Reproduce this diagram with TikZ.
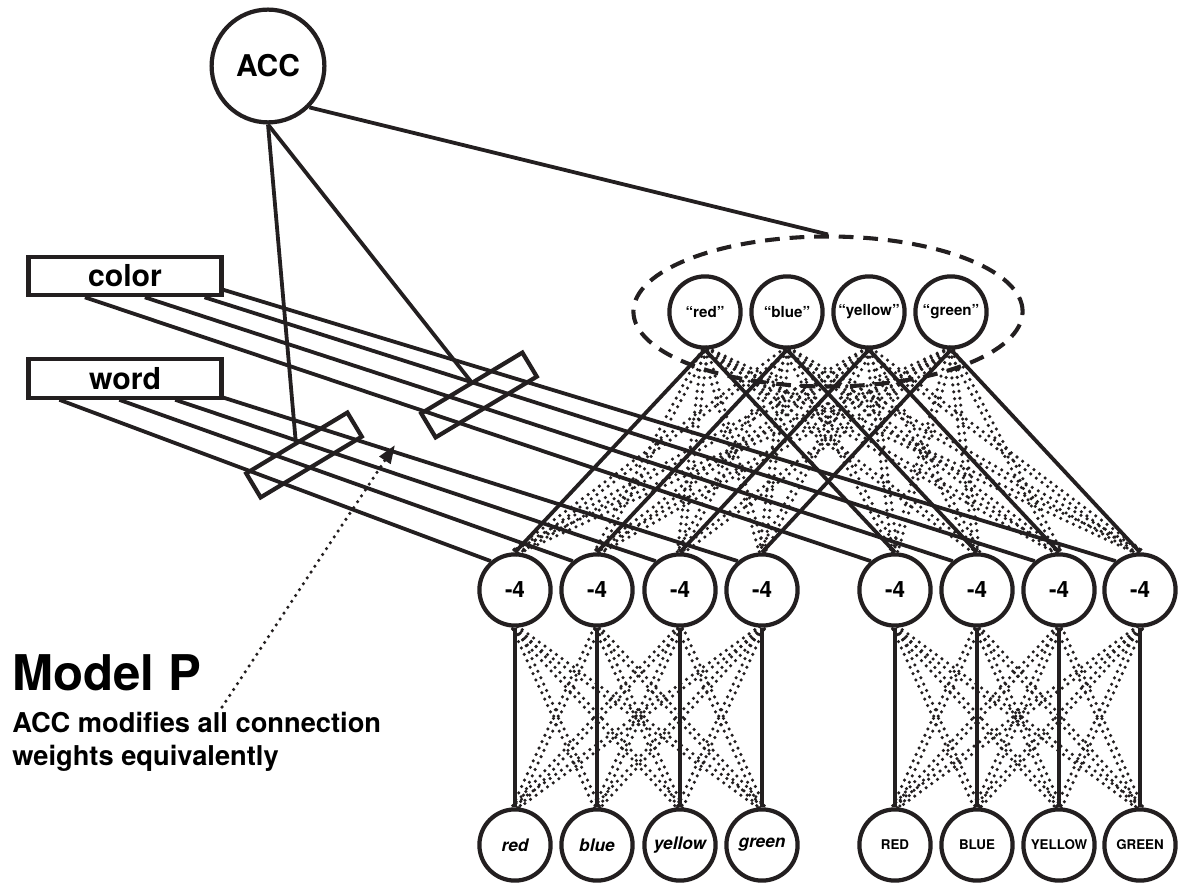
\documentclass[tikz,border=0pt]{standalone}
\usepackage{fontspec}
\setmainfont{TeX Gyre Heros}
\usetikzlibrary{shapes.geometric,arrows.meta,calc}
\definecolor{ink}{RGB}{35,31,32}
% two parallel dotted links between two anchors
\newcommand\dotpair[2]{%
  \draw[dots] ($(#1)!1.9pt!90:(#2)$) -- ($(#2)!1.9pt!-90:(#1)$);
  \draw[dots] ($(#1)!1.9pt!-90:(#2)$) -- ($(#2)!1.9pt!90:(#1)$);}

\begin{document}
\begin{tikzpicture}[x=0.25mm,y=-0.25mm,
  unit/.style={draw=ink,line width=3pt,circle,minimum size=17.8mm,inner sep=0pt,fill=white},
  task/.style={draw=ink,line width=3pt,minimum width=48.2mm,minimum height=9.6mm,inner sep=0pt,
    font=\bfseries\fontsize{21.5}{24}\selectfont},
  gate/.style={draw=ink,line width=3pt,minimum width=29.5mm,minimum height=7mm,inner sep=0pt,rotate=31},
  wire/.style={ink,line width=2.7pt},
  dots/.style={ink,line width=2.5pt,line cap=round,dash pattern=on 0pt off 5pt}]
  \useasboundingbox (0,0) rectangle (1181,884);

  % controller, task units and the gates on their lines
  \node[unit,minimum size=28.2mm,font=\bfseries\fontsize{21.3}{24}\selectfont] (acc) at (268,66) {ACC};
  \node[task] (color) at (125,276) {color};
  \node[task] (word) at (125,378.5) {word};
  \node[gate] (gc) at (479,395) {};
  \node[gate] (gw) at (304,455) {};

  % response layer
  \node[draw=ink,line width=2.9pt,dash pattern=on 10.5pt off 7pt,ellipse,
    minimum width=97.3mm,minimum height=37.5mm,inner sep=0pt] (resp) at (828,311.5) {};
  \foreach \i/\x/\t in {1/705/red,2/787/blue,3/869/yellow,4/951/green}
    \node[unit,font=\bfseries\fontsize{10.8}{12}\selectfont] (r\i) at (\x,312) {``\t''};

  % hidden layer and input layer
  \foreach \i/\x in {1/515,2/597,3/680,4/762,5/895,6/977,7/1059,8/1140}
    \node[unit,font=\bfseries\fontsize{16}{18}\selectfont] (h\i) at (\x,590) {-4};
  \foreach \i/\x/\t in {1/515/red,2/597/blue,3/680/yellow,4/762/green}
    \node[unit,font=\bfseries\itshape\fontsize{12.3}{14}\selectfont] (in\i) at (\x,845) {\t};
  \foreach \i/\x/\t in {5/895/RED,6/977/BLUE,7/1059/YELLOW,8/1140/GREEN}
    \node[unit,font=\bfseries\fontsize{9.5}{11}\selectfont] (in\i) at (\x,845) {\t};

  % responses to hidden units
  \foreach \i in {1,...,4}{
    \pgfmathtruncatemacro\k{\i+4}
    \draw[wire] (r\i.south) -- (h\i.north) (r\i.south) -- (h\k.north);
    \foreach \j in {1,...,8}{
      \pgfmathtruncatemacro\m{mod(\j-1,4)+1}
      \ifnum\m=\i\else \dotpair{r\i.south}{h\j.north}\fi
    }
  }

  % hidden units to inputs
  \foreach \g in {0,4}{
    \foreach \i in {1,...,4}{
      \pgfmathtruncatemacro\a{\i+\g}
      \draw[wire] (h\a.south) -- (in\a.north);
      \foreach \j in {1,...,4}{
        \pgfmathtruncatemacro\b{\j+\g}
        \ifnum\i=\j\else \dotpair{h\a.south}{in\b.north}\fi
      }
    }
  }

  % task demand lines
  \foreach \a/\n in {-152/5,-47/6,-15/7,-8/8}
    \draw[wire] (color.\a) -- (h\n.130);
  \foreach \a/\n in {-162/1,-105/2,-23/3,-11/4}
    \draw[wire] (word.\a) -- (h\n.130);

  % controller links
  \draw[wire] (acc.south) -- (gw.north);
  \draw[wire] (acc.south) -- (gc.north);
  \draw[wire] (acc.-45) -- (resp.north);

  % caption
  \node[anchor=base west,inner sep=0pt,font=\bfseries\fontsize{35}{40}\selectfont] (title) at (12,690) {Model P};
  \node[anchor=base west,inner sep=0pt,font=\bfseries\fontsize{19.4}{23}\selectfont] (note1) at (12,732) {ACC modifies all connection};
  \node[anchor=base west,inner sep=0pt,font=\bfseries\fontsize{19.4}{23}\selectfont] (note2) at (12,765) {weights equivalently};
  \coordinate (tail) at (222,707);
  \coordinate (tip) at (395,445);
  \draw[dots,-{Triangle[length=4.6mm,width=3.2mm]}] (tail) -- (tip);
\end{tikzpicture}
\end{document}
